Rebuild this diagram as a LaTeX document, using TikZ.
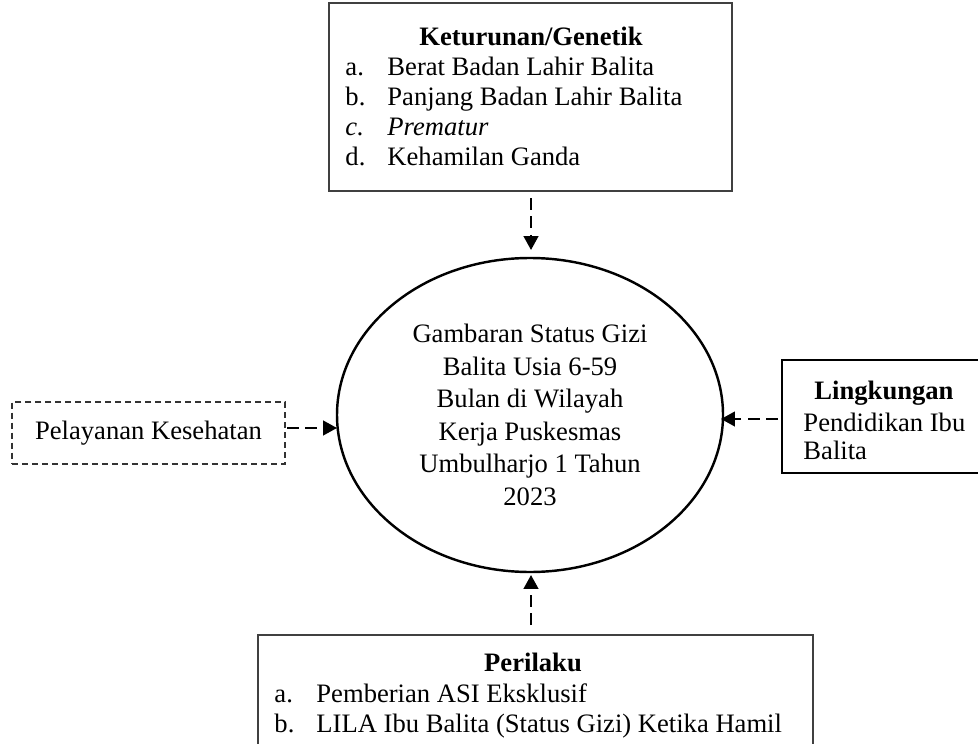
\documentclass[tikz,border=0pt]{standalone}
\usepackage{fontspec}
\setmainfont{Liberation Serif}
\usetikzlibrary{arrows.meta,shapes.geometric}
\def\px{0.451pt}
\begin{document}
\begin{tikzpicture}[x=0.451pt,y=-0.451pt,
  font=\fontsize{12}{13.5}\selectfont,
  box/.style={draw=black!75, line width=0.9pt, inner sep=0pt, outer sep=0pt},
  dbox/.style={draw=black!80, line width=0.6pt, dash pattern=on 2.7pt off 1.8pt, inner sep=0pt, outer sep=0pt},
  goalshape/.style={ellipse, draw=black, line width=1.1pt, inner sep=0pt, outer sep=0pt, align=center,
     font=\fontsize{12}{14.7}\selectfont},
  txt/.style={inner sep=0pt, anchor=base west},
  ttl/.style={inner sep=0pt, anchor=base, font=\fontsize{12}{13.5}\selectfont\bfseries},
  conn/.style={line width=1.1pt, dash pattern=on 5.2pt off 3.1pt,
     -{Triangle[length=6.3pt,width=6.6pt]}}
]
\useasboundingbox (0,0) rectangle (978,744);
\clip (0,0) rectangle (978,744);

% top box
\node[box, anchor=north west, minimum width=403*\px, minimum height=188*\px] (gen) at (329,3) {};
\node[ttl] (gent) at (531,46) {Keturunan/Genetik};
\node[txt] (gala) at (345,76) {a.};
\node[txt] (galb) at (345,106) {b.};
\node[txt] (galc) at (345,136) {\itshape c.};
\node[txt] (gald) at (345,166) {d.};
\node[txt] (gena) at (387,76) {Berat Badan Lahir Balita};
\node[txt] (genb) at (387,106) {Panjang Badan Lahir Balita};
\node[txt] (genc) at (387,136) {\itshape Prematur};
\node[txt] (gend) at (387,166) {Kehamilan Ganda};

% central ellipse
\node[goalshape, minimum width=386*\px, minimum height=314*\px] (goal) at (530,415)
  {Gambaran Status Gizi\\Balita Usia 6-59\\Bulan di Wilayah\\Kerja Puskesmas\\Umbulharjo 1 Tahun\\2023};

% left dashed box
\node[dbox, minimum width=273*\px, minimum height=62*\px] (pel) at (148.5,433) {Pelayanan Kesehatan};

% right box
\node[box, draw=black, anchor=north west, minimum width=215*\px, minimum height=113*\px] (lin) at (782,360) {};
\node[ttl] (lint) at (884,399) {Lingkungan};
\node[txt] (lina) at (803,431) {Pendidikan Ibu};
\node[txt] (linb) at (803,459) {Balita};

% bottom box
\node[box, anchor=north west, minimum width=555*\px, minimum height=140*\px] (per) at (258,635) {};
\node[ttl] (pert) at (533,671) {Perilaku};
\node[txt] (perla) at (274,702) {a.};
\node[txt] (perlb) at (274,732) {b.};
\node[txt] (pera) at (316,702) {Pemberian ASI Eksklusif};
\node[txt] (perb) at (316,732) {LILA Ibu Balita (Status Gizi) Ketika Hamil};

% connectors
\draw[conn, shorten <=3.2pt, shorten >=3.6pt] (gen.south -| 531,0) -- (goal.north -| 531,0);
\draw[conn, shorten <=0.9pt] (pel.east |- 0,428) -- (goal.west |- 0,428);
\draw[conn, shorten <=1.8pt, shorten >=-0.9pt] (lin.west |- 0,419) -- (goal.east |- 0,419);
\draw[conn, shorten <=4.5pt, shorten >=1.35pt] (per.north -| 531,0) -- (goal.south -| 531,0);
\end{tikzpicture}
\end{document}
